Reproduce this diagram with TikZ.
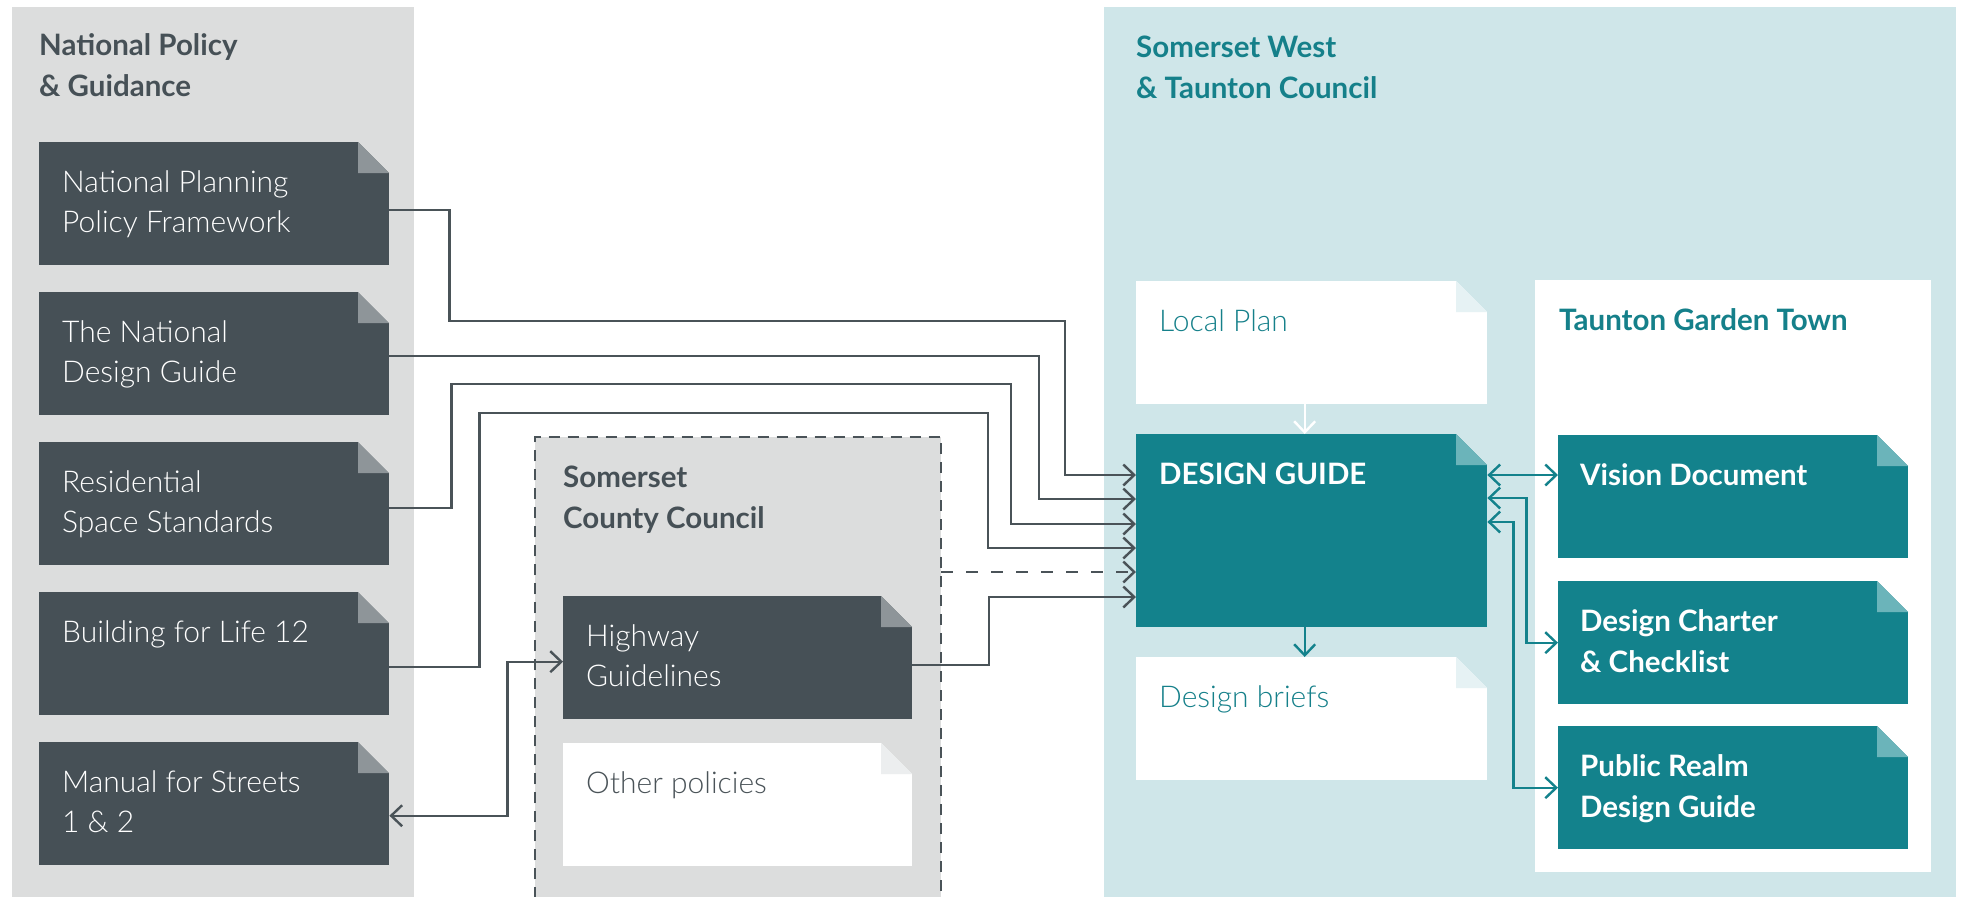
\documentclass[tikz,border=0pt]{standalone}
\usepackage{fontspec}
\setmainfont{Lato}
\newfontfamily\lightfamily{Lato}[UprightFont={* Light}]
\usetikzlibrary{arrows.meta,calc}

\definecolor{natgray}{HTML}{DCDDDD}
\definecolor{swtblue}{HTML}{CFE6E9}
\definecolor{slate}{HTML}{465056}
\definecolor{slatefold}{HTML}{8E9599}
\definecolor{linegray}{HTML}{4A5358}
\definecolor{teal}{HTML}{13828C}
\definecolor{tealfold}{HTML}{6BB4BA}
\definecolor{tealtext}{HTML}{15808A}
\definecolor{paleblue}{HTML}{E6F2F4}
\definecolor{palegray}{HTML}{ECEEEF}

\newcommand\bodyfont{\lightfamily\fontsize{30pt}{40pt}\selectfont}
\newcommand\headfont{\fontsize{29.5pt}{41pt}\selectfont\bfseries}
\newcommand\topline{\rule{0pt}{50pt}}

\begin{document}
\begin{tikzpicture}[x=1pt,y=-1pt,
  panel/.style={anchor=north west, inner sep=0pt, draw=none},
  fold/.style 2 args={path picture={
    \fill[#1] (path picture bounding box.north east) -- ++(-31pt,0pt) -- ++(31pt,-31pt) -- cycle;
    \fill[#2] ([xshift=-31pt]path picture bounding box.north east) -- ++(0pt,-31pt) -- ++(31pt,0pt) -- cycle;
  }},
  docbox/.style={anchor=north west, inner sep=0pt, draw=none, minimum height=123pt},
  darkdoc/.style={docbox, fill=slate, minimum width=350pt, fold={natgray}{slatefold}},
  whitedoc/.style={docbox, fill=white, minimum width=351pt, fold={swtblue}{paleblue}},
  tealdoc/.style={docbox, fill=teal, minimum width=350pt, fold={white}{tealfold}},
  txt/.style={anchor=north west, inner sep=0pt, align=left, font=\bodyfont},
  head/.style={anchor=north west, inner sep=0pt, align=left, font=\headfont},
  tip/.style={-{Straight Barb[length=11pt,width=21pt,line width=2.4pt]}},
  conn/.style={draw=linegray, line width=2.4pt, tip},
  dashconn/.style={conn, dash pattern=on 12pt off 13pt},
  tealconn/.style={draw=teal, line width=2.4pt,
    {Straight Barb[length=11pt,width=21pt,line width=2.4pt]}-{Straight Barb[length=11pt,width=21pt,line width=2.4pt]}},
]
\useasboundingbox (0,0) rectangle (1966,897);
\clip (0,0) rectangle (1966,897);
\fill[white] (0,0) rectangle (1966,897);

% --- group panels ---
\node[panel, fill=natgray, minimum width=402pt, minimum height=900pt] (natpanel) at (12,7) {};
\node[panel, fill=swtblue, minimum width=852pt, minimum height=900pt] (swtpanel) at (1104,7) {};
\node[panel, fill=white, minimum width=396pt, minimum height=592pt] (tgtpanel) at (1535,280) {};
\node[panel, fill=natgray, minimum width=406pt, minimum height=480pt] (scc) at (535,437) {};
\draw[linegray, line width=2pt, dash pattern=on 11pt off 8pt]
  (scc.south west) -- (scc.north west) -- (scc.north east) -- (scc.south east);

% --- panel headings ---
\node[head, text=slate] (nat-head) at (39,5) {\topline National Policy\\\& Guidance};
\node[head, text=tealtext] (swt-head) at (1136,7) {\topline Somerset West\\\& Taunton Council};
\node[head, text=slate] (scc-head) at (563,437) {\topline Somerset\\County Council};
\node[head, text=tealtext] (tgt-head) at (1559,280) {\topline Taunton Garden Town};

% --- national documents ---
\node[darkdoc] (nppf) at (39,142) {};
\node[darkdoc] (ndg)  at (39,292) {};
\node[darkdoc] (rss)  at (39,442) {};
\node[darkdoc] (bfl)  at (39,592) {};
\node[darkdoc] (mfs)  at (39,742) {};
\node[txt, text=white] (nppf-t) at ([xshift=23pt]nppf.north west) {\topline National Planning\\Policy Framework};
\node[txt, text=white] (ndg-t)  at ([xshift=23pt]ndg.north west)  {\topline The National\\Design Guide};
\node[txt, text=white] (rss-t)  at ([xshift=23pt]rss.north west)  {\topline Residential\\Space Standards};
\node[txt, text=white] (bfl-t)  at ([xshift=23pt]bfl.north west)  {\topline Building for Life 12};
\node[txt, text=white] (mfs-t)  at ([xshift=23pt]mfs.north west)  {\topline Manual for Streets\\1 \& 2};

% --- county documents ---
\node[darkdoc, minimum width=349pt] (hw) at (563,596) {};
\node[docbox, fill=white, minimum width=349pt, fold={natgray}{palegray}] (op) at (563,743) {};
\node[txt, text=white] (hw-t) at ([xshift=23pt]hw.north west) {\topline Highway\\Guidelines};
\node[txt, text=linegray] (op-t) at ([xshift=23pt]op.north west) {\topline Other policies};

% --- district documents ---
\node[whitedoc] (lp) at (1136,281) {};
\node[docbox, fill=teal, minimum width=351pt, minimum height=193pt, fold={swtblue}{tealfold}] (dg) at (1136,434) {};
\node[whitedoc] (db) at (1136,657) {};
\node[txt, text=tealtext] (lp-t) at ([xshift=23pt]lp.north west) {\topline Local Plan};
\node[head, text=white] (dg-t) at ([xshift=23pt]dg.north west) {\topline DESIGN GUIDE};
\node[txt, text=tealtext] (db-t) at ([xshift=23pt]db.north west) {\topline Design briefs};

% --- garden town documents ---
\node[tealdoc] (vd) at (1558,435) {};
\node[tealdoc] (dc) at (1558,581) {};
\node[tealdoc] (pr) at (1558,726) {};
\node[head, text=white] (vd-t) at ([xshift=22pt]vd.north west) {\topline Vision Document};
\node[head, text=white] (dc-t) at ([xshift=22pt]dc.north west) {\topline Design Charter\\\& Checklist};
\node[head, text=white] (pr-t) at ([xshift=22pt]pr.north west) {\topline Public Realm\\Design Guide};

% --- inlets on the left side of the design guide ---
\coordinate (in1) at ($(dg.north west)+(0,41)$);
\coordinate (in2) at ($(dg.north west)+(0,65)$);
\coordinate (in3) at ($(dg.north west)+(0,90)$);
\coordinate (in4) at ($(dg.north west)+(0,114)$);
\coordinate (in5) at ($(dg.north west)+(0,138)$);
\coordinate (in6) at ($(dg.north west)+(0,163)$);

% --- connectors into the design guide ---
\draw[conn] ([yshift=-6pt]nppf.east) -- ++(60,0) |- (1065,321) |- (in1);
\draw[conn] ([yshift=-2pt]ndg.east) -| ([xshift=-97pt]in2) -- (in2);
\draw[conn] ([yshift=-4pt]rss.east) -- ++(62,0) |- (1011,384) |- (in3);
\draw[conn] ([yshift=-13pt]bfl.east) -- ++(90,0) |- (988,413) |- (in4);
\draw[dashconn] (in5 -| scc.east) -- (in5);
\draw[conn] ([yshift=-7pt]hw.east) -| ([xshift=-147pt]in6) -- (in6);
\draw[conn, {Straight Barb[length=11pt,width=21pt,line width=2.4pt]}-{Straight Barb[length=11pt,width=21pt,line width=2.4pt]}]
  ([yshift=-12pt]mfs.east) -- ++(118,0) |- ([yshift=-4pt]hw.west);

% --- local plan and design briefs ---
\draw[white, line width=2pt, tip] ([xshift=-7pt]lp.south) -- ([xshift=-7pt]dg.north);
\draw[teal, line width=2.4pt, tip] ([xshift=-7pt]dg.south) -- ([xshift=-7pt]db.north);

% --- links to the garden town documents ---
\coordinate (out1) at ($(dg.north east)+(0,41)$);
\coordinate (out2) at ($(dg.north east)+(0,64)$);
\coordinate (out3) at ($(dg.north east)+(0,88)$);
\draw[tealconn] (out1) -- (out1 -| vd.west);
\draw[tealconn] (out2) -- ++(39,0) |- (dc.west);
\draw[tealconn] (out3) -- ++(26,0) |- (pr.west);
\end{tikzpicture}
\end{document}
